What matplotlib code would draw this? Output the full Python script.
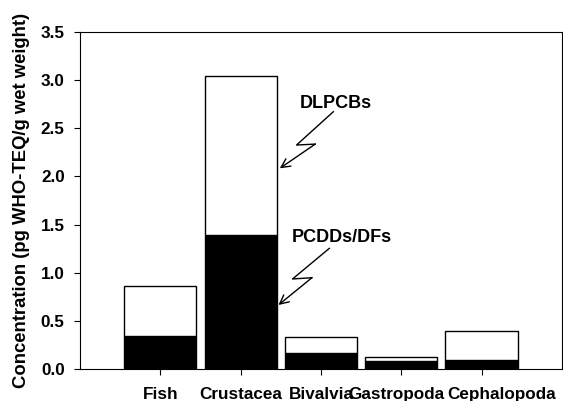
import numpy as np
import matplotlib
matplotlib.use("Agg")
import matplotlib.pyplot as plt
import matplotlib.transforms as mtransforms

plt.rcParams['font.family'] = ['Liberation Sans', 'DejaVu Sans']
plt.rcParams['font.weight'] = 'bold'

groups = ['Fish', 'Crustacea', 'Bivalvia', 'Gastropoda', 'Cephalopoda']
pcdd_dfs = [0.34, 1.39, 0.17, 0.085, 0.09]
dlpcbs = [0.52, 1.65, 0.16, 0.035, 0.30]

fig = plt.figure(figsize=(5.63, 4.01), dpi=100)
ax = fig.add_axes([0.1421, 0.0798, 0.856, 0.8404])

x = np.arange(1, len(groups) + 1)
ax.bar(x, pcdd_dfs, width=0.9, color='black', edgecolor='black', linewidth=1)
ax.bar(x, dlpcbs, width=0.9, bottom=pcdd_dfs, color='white', edgecolor='black', linewidth=1)

ax.set_xlim(0, 6)
ax.set_ylim(0, 3.5)
ax.set_xticks(x)
ax.set_xticklabels(groups, fontsize=12.3, fontweight='bold')
yt = np.arange(0, 3.51, 0.5)
ax.set_yticks(yt)
ax.set_yticklabels(['%.1f' % v for v in yt], fontsize=12.3, fontweight='bold')
ax.tick_params(axis='x', length=4, pad=9)
ax.tick_params(axis='y', length=4, pad=7)
ax.set_ylabel('Concentration (pg WHO-TEQ/g wet weight)', fontsize=13.3, fontweight='bold', labelpad=8)

# shift the crowded labels like the original software did
shifts = {'Gastropoda': -5, 'Cephalopoda': 20}
for lab in ax.get_xticklabels():
    dx = shifts.get(lab.get_text(), 0)
    if dx:
        off = mtransforms.ScaledTranslation(dx / 100.0, 0, fig.dpi_scale_trans)
        lab.set_transform(lab.get_transform() + off)

# zigzag pointers
arrow = dict(arrowstyle='->', lw=1, color='black', shrinkA=0, shrinkB=0, mutation_scale=16)

zig1_x = [3.154, 2.696, 2.929]
zig1_y = [2.672, 2.326, 2.336]
ax.plot(zig1_x, zig1_y, color='black', lw=1)
ax.annotate('', xy=(2.4875, 2.084), xytext=(2.929, 2.336), arrowprops=arrow)
ax.text(3.19, 2.76, 'DLPCBs', ha='center', va='center', fontsize=13, fontweight='bold')

zig2_x = [3.104, 2.646, 2.8875]
zig2_y = [1.253, 0.935, 0.948]
ax.plot(zig2_x, zig2_y, color='black', lw=1)
ax.annotate('', xy=(2.471, 0.665), xytext=(2.8875, 0.948), arrowprops=arrow)
ax.text(3.256, 1.37, 'PCDDs/DFs', ha='center', va='center', fontsize=13, fontweight='bold')

fig.savefig('out.png', dpi=100)
